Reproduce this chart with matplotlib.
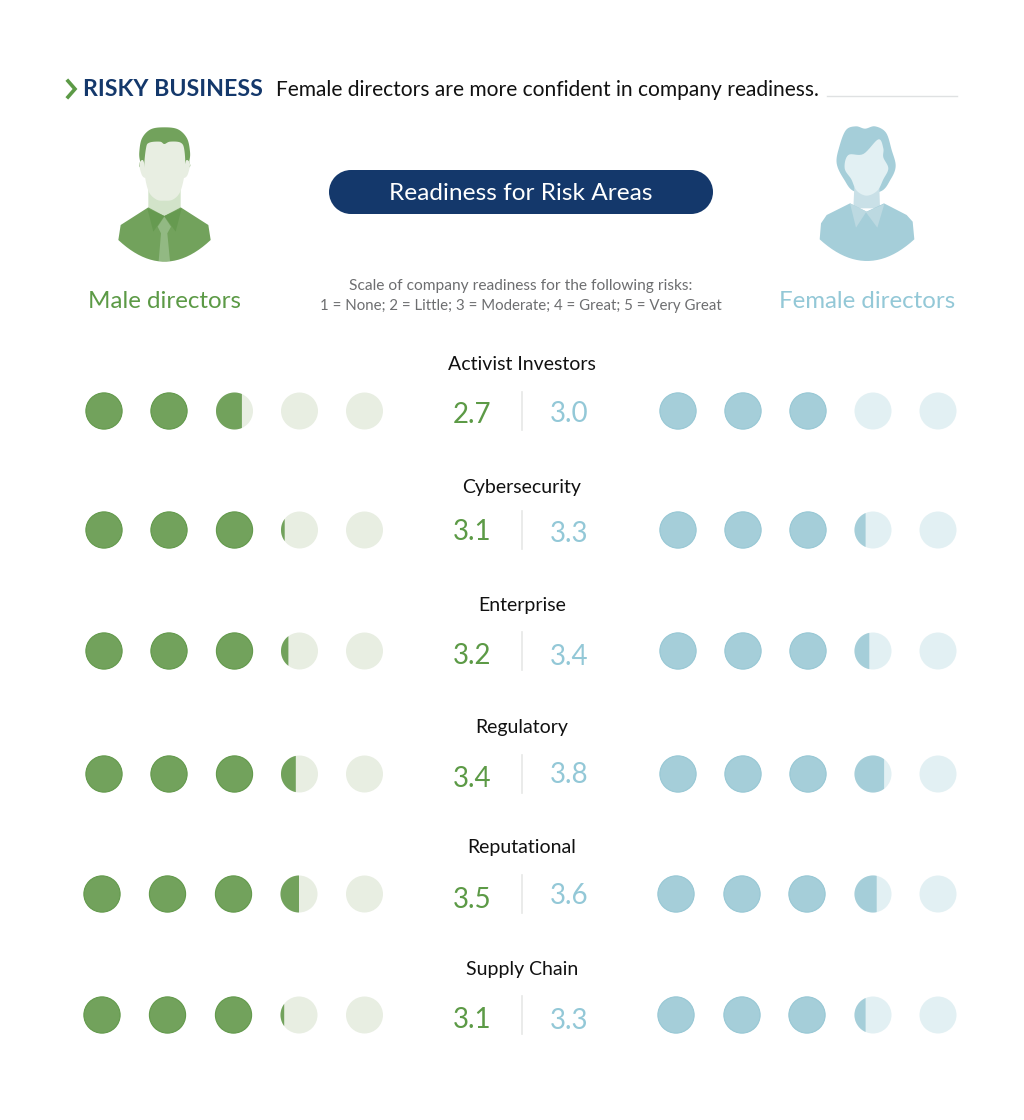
import numpy as np
import matplotlib
matplotlib.use('Agg')
import matplotlib.pyplot as plt
from matplotlib.patches import Circle, Polygon, Rectangle

plt.rcParams['font.family'] = ['Lato', 'DejaVu Sans']

categories = ['Activist Investors', 'Cybersecurity', 'Enterprise', 'Regulatory', 'Reputational', 'Supply Chain']
male_vals = [2.7, 3.1, 3.2, 3.4, 3.5, 3.1]
female_vals = [3.0, 3.3, 3.4, 3.8, 3.6, 3.3]

GREEN = '#72a25c'
GREEN_EDGE = '#639a4c'
GREEN_LT = '#e8eee2'
GREEN_TXT = '#5c9a46'
BLUE = '#a5ced9'
BLUE_EDGE = '#98c8d5'
BLUE_LT = '#e2f0f3'
BLUE_TXT = '#93c8d7'
NAVY = '#14386b'

# pixel layout of the rows
label_y = [365, 487, 605, 728, 848, 970]
row_y = [411, 530, 651, 774, 894, 1015]
male_x = [[104, 169, 234.5, 299.5, 364.5]] * 4 + [[102, 167.5, 233.5, 299, 364.5]] * 2
female_x = [[678, 743, 808, 873, 938]] * 4 + [[676, 742, 807, 873, 938]] * 2
num_off_m = [4, 2, 5, 5, 6, 5]
num_off_f = [3, 4, 6, 1, 2, 6]

fig = plt.figure(figsize=(10.24, 11.2), dpi=100)
ax = fig.add_axes([0, 0, 1, 1])
ax.set_xlim(0, 1024)
ax.set_ylim(1120, 0)
ax.axis('off')


def catmull(pts, n=8):
    # closed spline through the points, so the outline does not shrink
    pts = np.array(pts, dtype=float)
    out = []
    for i in range(len(pts)):
        p0, p1, p2, p3 = pts[i - 1], pts[i], pts[(i + 1) % len(pts)], pts[(i + 2) % len(pts)]
        for t in np.linspace(0, 1, n, endpoint=False):
            out.append(0.5 * (2 * p1 + (p2 - p0) * t + (2 * p0 - 5 * p1 + 4 * p2 - p3) * t ** 2
                              + (3 * p1 - p0 - 3 * p2 + p3) * t ** 3))
    return np.array(out)


def arc(p0, p1, h, n=24):
    # shallow arc from p0 to p1 hanging h below the chord
    t = np.linspace(0, 1, n)
    xs = p0[0] + (p1[0] - p0[0]) * t
    ys = p0[1] + (p1[1] - p0[1]) * t + h * (1 - (2 * t - 1) ** 2)
    return list(zip(xs, ys))


def shape(zoom_pts, ox, oy, color, smooth=False, z=2):
    pts = np.array(zoom_pts, dtype=float)
    if smooth:
        pts = catmull(pts)
    ax.add_patch(Polygon(pts / 3 + [ox, oy], closed=True, fc=color, ec='none', zorder=z))


def dots(xs, y, val, dark, edge, light):
    r = 18.5
    for i, x in enumerate(xs):
        frac = min(max(val - i, 0), 1)
        ax.add_patch(Circle((x, y), r, fc=light, ec='none', zorder=2))
        if frac >= 1:
            ax.add_patch(Circle((x, y), r - 0.4, fc=dark, ec=edge, lw=0.8, zorder=3))
        elif frac > 0:
            # left part of the disc, cut at the fraction of its width
            a = np.arccos(2 * frac - 1)
            th = np.linspace(a, 2 * np.pi - a, 80)
            seg = np.column_stack([x + r * np.cos(th), y + r * np.sin(th)])
            ax.add_patch(Polygon(seg, closed=True, fc=dark, ec='none', zorder=3))


# header
ax.plot([68, 75, 68], [81, 89, 97], color=GREEN_TXT, lw=2.6, solid_joinstyle='miter')
ax.text(83, 89, 'RISKY BUSINESS', color=NAVY, fontsize=16.7, fontweight='bold', va='center', ha='left')
ax.text(276, 90, 'Female directors are more confident in company readiness.', color='#111111',
        fontsize=15.1, va='center', ha='left')
ax.plot([827, 957], [96, 96], color='#dfe1e2', lw=1)

# pill
ax.add_patch(Rectangle((351, 170), 340, 44, fc=NAVY, ec='none', zorder=1))
ax.add_patch(Circle((351, 192), 22, fc=NAVY, ec='none', zorder=1))
ax.add_patch(Circle((691, 192), 22, fc=NAVY, ec='none', zorder=1))
ax.text(521, 194, 'Readiness for Risk Areas', color='white', fontsize=17.6, ha='center', va='center', zorder=4)

ax.text(521, 286, 'Scale of company readiness for the following risks:', color='#6d6e70',
        fontsize=11.2, ha='center', va='center')
ax.text(521, 306, '1 = None; 2 = Little; 3 = Moderate; 4 = Great; 5 = Very Great', color='#6d6e70',
        fontsize=10.8, ha='center', va='center')

# male icon
mx, my = 60, 70
shape([(238, 245), (246, 205), (272, 178), (313, 172), (354, 178), (381, 205), (390, 245), (388, 272),
       (378, 295), (250, 295), (240, 272)], mx, my, GREEN, True)
shape([(238, 282), (250, 272), (258, 320), (246, 316)], mx, my, GREEN_LT, True, 3)
shape([(390, 282), (378, 272), (370, 320), (382, 316)], mx, my, GREEN_LT, True, 3)
shape([(265, 360), (362, 360), (362, 412), (313, 440), (265, 412)], mx, my, '#d2e3c9', False, 3)
shape([(258, 235), (268, 218), (300, 215), (313, 222), (330, 215), (362, 218), (373, 240),
       (375, 300), (362, 362), (340, 388), (313, 392), (288, 388), (265, 362), (253, 300)], mx, my, GREEN_LT, True, 4)
body = [(265, 412), (182, 465)] + arc((175, 510), (452, 510), 65) + [(445, 465), (362, 412), (313, 438)]
shape(body, mx, my, GREEN, False, 4)
shape([(262, 415), (280, 485), (313, 438)], mx, my, '#669a50', False, 5)
shape([(365, 415), (347, 485), (313, 438)], mx, my, '#669a50', False, 5)
shape([(313, 440), (293, 470), (303, 490), (296, 573), (330, 573), (322, 490), (333, 470)], mx, my, '#92b983', False, 5)
ax.text(165, 301, 'Male directors', color=GREEN_TXT, fontsize=17.4, ha='center', va='center')

# female icon
fx, fy = 720, 80
shape([(378, 150), (408, 139), (435, 146), (465, 139), (498, 158), (515, 210), (527, 258), (512, 298),
       (480, 335), (405, 335), (372, 298), (350, 250), (358, 200)], fx, fy, BLUE, True)
shape([(403, 320), (478, 320), (480, 385), (400, 385)], fx, fy, '#c9e0e7', False, 3)
shape([(385, 225), (430, 222), (475, 178), (490, 205), (490, 232), (505, 265), (490, 298), (472, 332),
       (440, 347), (410, 332), (394, 298), (374, 265)], fx, fy, BLUE_LT, True, 4)
body = [(390, 370), (320, 405), (303, 430)] + arc((299, 478), (583, 478), 65) + [(578, 425), (560, 405), (492, 370), (440, 395)]
shape(body, fx, fy, BLUE, False, 4)
shape([(390, 370), (408, 443), (438, 397), (472, 443), (493, 372), (440, 395)], fx, fy, '#bcd9e1', False, 5)
ax.text(867, 301, 'Female directors', color=BLUE_TXT, fontsize=17.3, ha='center', va='center')

# rows
for i, name in enumerate(categories):
    y = row_y[i]
    ax.text(522, label_y[i], name, color='#111111', fontsize=14, ha='center', va='center')
    dots(male_x[i], y, male_vals[i], GREEN, GREEN_EDGE, GREEN_LT)
    dots(female_x[i], y, female_vals[i], BLUE, BLUE_EDGE, BLUE_LT)
    ax.plot([521.5, 521.5], [y - 19, y + 19], color='#e6e8e6', lw=1.2)
    ax.text(472, y + num_off_m[i], f'{male_vals[i]:.1f}', color=GREEN_TXT, fontsize=20, ha='center', va='center')
    ax.text(569, y + num_off_f[i], f'{female_vals[i]:.1f}', color=BLUE_TXT, fontsize=20, ha='center', va='center')

fig.savefig('out.png', dpi=100, facecolor='white')
